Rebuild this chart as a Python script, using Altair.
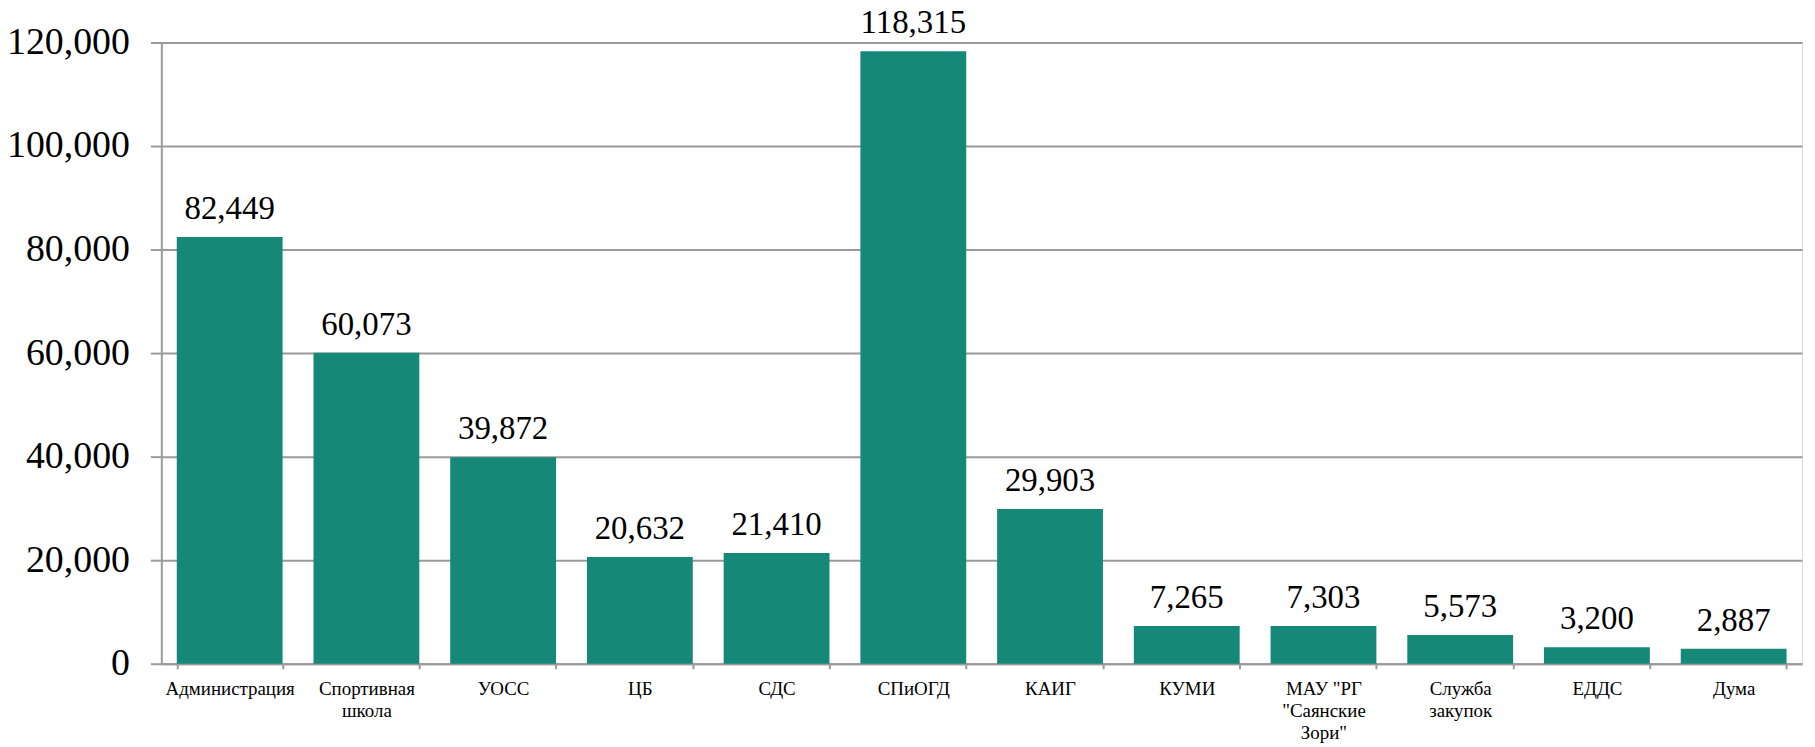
import altair as alt
import pandas as pd

categories = [
    "Администрация",
    "Спортивная\nшкола",
    "УОСС",
    "ЦБ",
    "СДС",
    "СПиОГД",
    "КАИГ",
    "КУМИ",
    "МАУ \"РГ\n\"Саянские\nЗори\"",
    "Служба\nзакупок",
    "ЕДДС",
    "Дума",
]
values = [82449, 60073, 39872, 20632, 21410, 118315, 29903, 7265, 7303, 5573, 3200, 2887]
y_ticks = [0, 20000, 40000, 60000, 80000, 100000, 120000]

df = pd.DataFrame({"cat": categories, "val": values})

FONT = "Liberation Serif"
GRID = "#9a9a9a"

x = alt.X(
    "cat:N",
    sort=None,
    title=None,
    scale=alt.Scale(paddingInner=0.226, paddingOuter=0.113),
    axis=alt.Axis(
        labelAngle=0,
        labelFont=FONT,
        labelFontSize=19,
        labelColor="black",
        labelLineHeight=22,
        labelPadding=11,
        labelExpr="split(datum.label, '\\n')",
        tickSize=5,
        tickColor=GRID,
        tickWidth=2,
        tickBand="extent",
        domainColor=GRID,
        domainWidth=2,
        labelLimit=300,
    ),
)
y = alt.Y(
    "val:Q",
    title=None,
    scale=alt.Scale(domain=[0, 120000], nice=False),
    axis=alt.Axis(
        values=y_ticks,
        labelExpr="format(datum.value, ',.0f')",
        labelFont=FONT,
        labelFontSize=38,
        labelColor="black",
        labelPadding=21,
        tickSize=11,
        tickColor=GRID,
        tickWidth=2,
        grid=True,
        gridColor=GRID,
        gridWidth=2,
        domainColor=GRID,
        domainWidth=2,
    ),
)

base = alt.Chart(df)
bars = base.mark_bar(color="#168878").encode(x=x, y=y)
labels = base.mark_text(
    font=FONT, fontSize=33, color="black", baseline="alphabetic", dy=-18
).encode(x=x, y=y, text=alt.Text("val:Q", format=",.0f"))

chart = (
    alt.layer(bars, labels)
    .properties(
        width=1648,
        height=624,
        autosize=alt.AutoSizeParams(type="none"),
        padding={"left": 154, "top": 33, "right": 5, "bottom": 82},
    )
    .configure_view(stroke=None)
    .configure(background="white", font=FONT)
)

chart.save("out.html", embed_options={"renderer": "svg", "actions": False})
